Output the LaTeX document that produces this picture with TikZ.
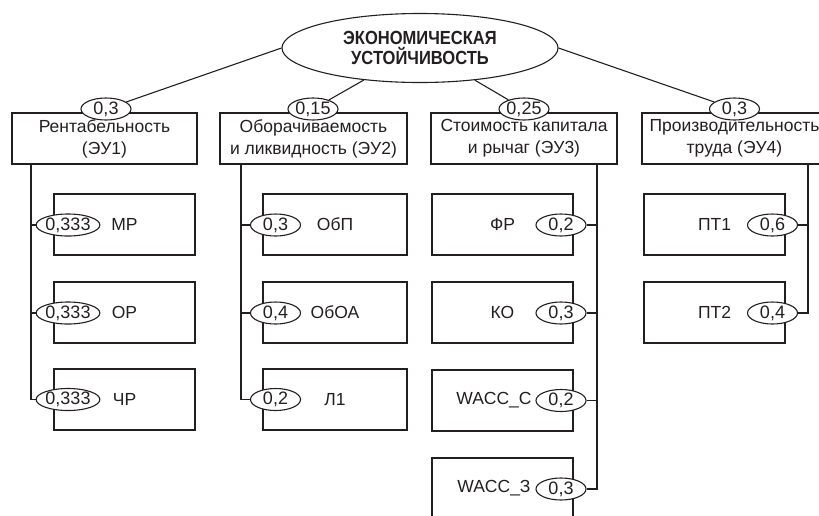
\documentclass[tikz,border=0pt]{standalone}
\usepackage{fontspec}
\setmainfont{Liberation Sans}
\newfontfamily\titlefont[FakeStretch=0.87]{Liberation Sans}
\usetikzlibrary{shapes.geometric}
\definecolor{lc}{HTML}{231F20}
\tikzset{
  conn/.style={draw=lc, line width=1.1pt},
  box/.style={draw=lc, line width=1.1pt, rectangle, inner sep=0pt, align=center,
    text=lc, font=\fontsize{17.5}{22}\selectfont},
  topbox/.style={box, minimum height=51pt},
  subbox/.style={box, minimum width=141pt, minimum height=61pt},
  wt/.style={ellipse, draw=lc, fill=white, line width=1.1pt, inner sep=0pt,
    minimum width=50pt, minimum height=22pt, text=lc, font=\fontsize{18}{18}\selectfont},
  mainell/.style={ellipse, draw=lc, line width=1.1pt, inner sep=0pt, align=center,
    minimum width=276pt, minimum height=69pt, text=lc,
    font=\titlefont\bfseries\fontsize{19}{20}\selectfont}
}
\begin{document}
\begin{tikzpicture}[x=1pt,y=-1pt]
\useasboundingbox (0,0) rectangle (819,515);
\clip (0,0) rectangle (819,515);
% main
\node[mainell] (m) at (420,48) {ЭКОНОМИЧЕСКАЯ\\УСТОЙЧИВОСТЬ};
% top boxes
\node[topbox, minimum width=185pt] (b1) at (104.5,138.5) {Рентабельность\\(ЭУ1)};
\node[topbox, minimum width=187pt] (b2) at (313.5,138.5) {Оборачиваемость\\и ликвидность (ЭУ2)};
\node[topbox, minimum width=186pt] (b3) at (524,138.5) {Стоимость капитала\\и рычаг (ЭУ3)};
\node[topbox, minimum width=185pt] (b4) at (734.5,138.5) {Производительность\\труда (ЭУ4)};
% sub boxes
\node[subbox] (s11) at (124.5,224.5) {МР};
\node[subbox] (s12) at (124.5,312.5) {ОР};
\node[subbox] (s13) at (124.5,399.5) {ЧР};
\node[subbox, minimum width=144pt] (s21) at (335,224.5) {ОбП};
\node[subbox, minimum width=144pt] (s22) at (335,312.5) {ОбОА};
\node[subbox, minimum width=144pt] (s23) at (335,399.5) {Л1};
\node[subbox] (s31) at (502.5,224.5) {ФР};
\node[subbox] (s32) at (502.5,312.5) {КО};
\node[subbox] (s33) at (502.5,400.5) {WACC\_С\hspace{17pt}};
\node[subbox] (s34) at (502.5,488.5) {WACC\_З\hspace{17pt}};
\node[subbox] (s41) at (714.5,224.5) {ПТ1};
\node[subbox] (s42) at (714.5,312.5) {ПТ2};
% top weights
\node[wt] (w1) at (106,109) {0,3};
\node[wt] (w2) at (313,109) {0,15};
\node[wt] (w3) at (524,109) {0,25};
\node[wt] (w4) at (734.5,109) {0,3};
% sub weights
\node[wt] (w11) at (68,225) {0,333};
\node[wt] (w12) at (68,313) {0,333};
\node[wt] (w13) at (68,399.5) {0,333};
\node[wt] (w21) at (275.5,225) {0,3};
\node[wt] (w22) at (275.5,313) {0,4};
\node[wt] (w23) at (275.5,399.5) {0,2};
\node[wt] (w31) at (561,225) {0,2};
\node[wt] (w32) at (561,313) {0,3};
\node[wt] (w33) at (561,400.5) {0,2};
\node[wt] (w34) at (561,489) {0,3};
\node[wt] (w41) at (772.5,225) {0,6};
\node[wt] (w42) at (772.5,313) {0,4};
% connectors from main
\draw[conn] (m.west) -- (w1);
\draw[conn] (m) -- (w2);
\draw[conn] (m) -- (w3);
\draw[conn] (m.east) -- (w4);
% trunks
\coordinate (t1) at (31,164);
\coordinate (t2) at (241,164);
\coordinate (t3) at (597,164);
\coordinate (t4) at (808,164);
\draw[conn] (t1) |- (w13.west);
\draw[conn] (t1 |- w11.west) -- (w11.west);
\draw[conn] (t1 |- w12.west) -- (w12.west);
\draw[conn] (t2) |- (w23.west);
\draw[conn] (t2 |- w21.west) -- (w21.west);
\draw[conn] (t2 |- w22.west) -- (w22.west);
\draw[conn] (t3) |- (w34.east);
\draw[conn] (t3 |- w31.east) -- (w31.east);
\draw[conn] (t3 |- w32.east) -- (w32.east);
\draw[conn] (t3 |- w33.east) -- (w33.east);
\draw[conn] (t4) |- (w42.east);
\draw[conn] (t4 |- w41.east) -- (w41.east);
\end{tikzpicture}
\end{document}
